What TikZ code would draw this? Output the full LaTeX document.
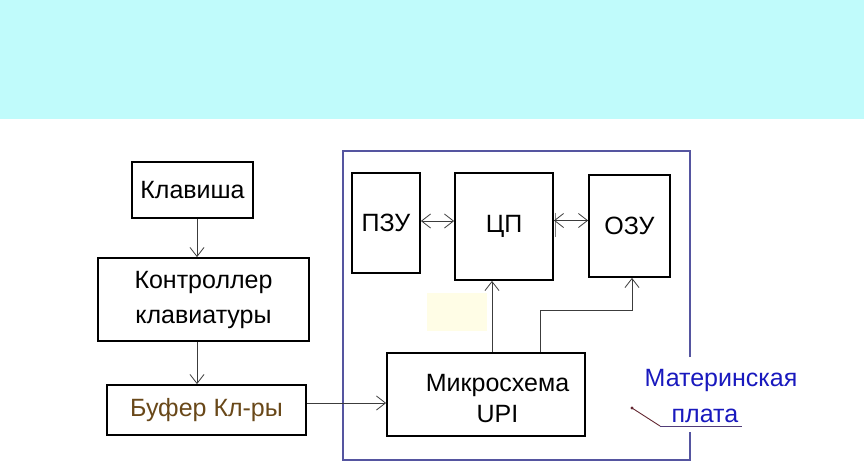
\documentclass[tikz,border=0pt]{standalone}
\usepackage{fontspec}
\setmainfont{Liberation Sans}
\usetikzlibrary{arrows.meta}
\definecolor{banner}{RGB}{192,251,251}
\definecolor{frameblue}{RGB}{85,85,160}
\definecolor{txtblue}{RGB}{25,25,190}
\definecolor{bufbrown}{RGB}{105,72,25}
\definecolor{patch}{RGB}{255,253,230}
\definecolor{arrgray}{RGB}{60,60,60}
\definecolor{ptrred}{RGB}{100,40,50}
\definecolor{ulblue}{RGB}{80,60,120}
\tikzset{
  blk/.style={draw=black, line width=1.8pt, inner sep=0pt, font=\fontsize{25}{35}\selectfont, align=center},
  arr/.style={draw=arrgray, line width=0.9pt, -{Straight Barb[length=9pt,width=14pt,line width=0.8pt]}},
  darr/.style={draw=arrgray, line width=0.9pt, {Straight Barb[length=9pt,width=14pt,line width=0.8pt]}-{Straight Barb[length=9pt,width=14pt,line width=0.8pt]}},
}
\begin{document}
\begin{tikzpicture}[x=1pt,y=-1pt]
\useasboundingbox (0,0) rectangle (864,475);
\fill[white] (0,0) rectangle (864,475);
\fill[banner] (0,0) rectangle (864,119);
% motherboard frame
\draw[frameblue, line width=1.3pt] (690,357) -- (690,151) -- (343,151) -- (343,460) -- (690,460) -- (690,432);
\fill[patch] (427,293) rectangle (487,331);
% left chain
\node[blk, minimum width=121pt, minimum height=56pt] (klav) at (192.5,190) {Клавиша};
\node[blk, minimum width=211pt, minimum height=83pt] (kontr) at (203.5,299.5) {Контроллер\\клавиатуры};
\node[blk, minimum width=199pt, minimum height=50pt, text=bufbrown] (buf) at (206.5,410) {Буфер Кл-ры};
% board
\node[blk, minimum width=68pt, minimum height=100pt] (pzu) at (386,223) {ПЗУ};
\node[blk, minimum width=98pt, minimum height=107pt] (cp) at (504,226.5) {ЦП};
\node[blk, minimum width=81pt, minimum height=102pt] (ozu) at (629.5,226) {ОЗУ};
\node[blk, minimum width=198pt, minimum height=83pt,
      label={[font=\fontsize{25}{31}\selectfont, align=center, inner sep=0pt, xshift=11.5pt, yshift=-4pt]center:Микросхема\\UPI}] (micro) at (486,394.5) {};
\node[font=\fontsize{25}{36}\selectfont, text=txtblue, align=left, inner sep=0pt] (mp) at (721,396) {Материнская\\\hspace*{27pt}плата};
% small grey tick on the right edge of the CPU box
\draw[gray, line width=1.6pt] ([xshift=1.5pt,yshift=14pt]cp.east) -- ([xshift=1.5pt,yshift=-10pt]cp.east);
% connectors
\coordinate (k1) at ([xshift=4.5pt]klav.south);
\draw[arr] (k1) -- (k1 |- kontr.north);
\coordinate (k2) at ([xshift=-6.5pt]kontr.south);
\draw[arr] (k2) -- (k2 |- buf.north);
\coordinate (b1) at ([yshift=7pt]buf.east);
\draw[arr] (b1) -- (b1 -| micro.west);
\coordinate (p1) at ([yshift=2pt]pzu.east);
\draw[darr] (p1) -- (p1 -| cp.west);
\coordinate (c1) at ([yshift=6pt]cp.east);
\draw[darr] (c1) -- (c1 -| ozu.west);
\coordinate (m1) at ([xshift=6pt]micro.north);
\draw[arr] (m1) -- (m1 |- cp.south);
\coordinate (m2) at ([xshift=54pt]micro.north);
\coordinate (m3) at ([xshift=2.5pt]ozu.south);
\draw[arr] (m2) |- (m3 |- 0,310) -- (m3);
% pointer to the board label
\coordinate (dot) at (632,408);
\coordinate (bend) at (660,426);
\coordinate (uend) at (742,426);
\fill[ptrred] (dot) circle (1.6pt);
\draw[ptrred, line width=0.9pt] (dot) -- (bend);
\draw[ulblue, line width=0.9pt] (bend) -- (uend);
\end{tikzpicture}
\end{document}
